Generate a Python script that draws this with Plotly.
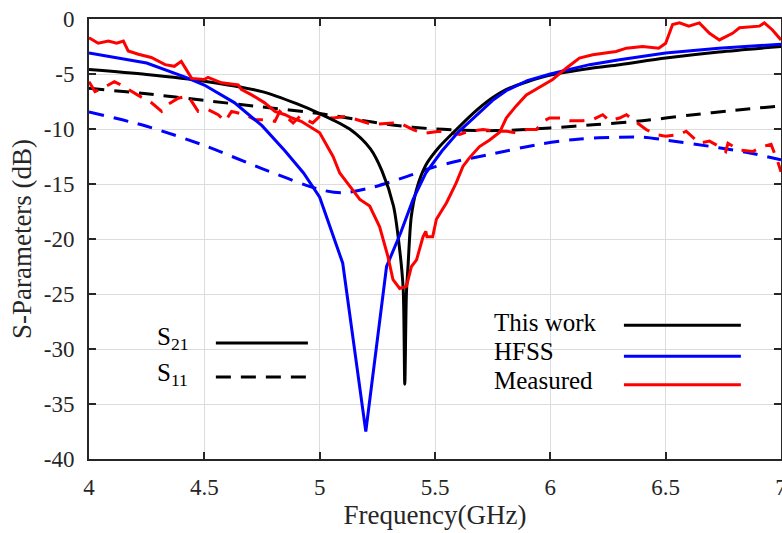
import plotly.graph_objects as go

# ---- data (frequency in GHz, S-parameters in dB) ----
work_s21_f = [4.0, 4.25, 4.5, 4.75, 4.9, 5.0, 5.13, 5.22, 5.27, 5.32, 5.347, 5.362, 5.369, 5.376, 5.383,
              5.397, 5.42, 5.46, 5.52, 5.6, 5.664, 5.74, 5.81, 5.9, 6.0, 6.17, 6.3, 6.5, 6.73, 7.0]
work_s21_db = [-4.6, -5.05, -5.65, -6.6, -7.7, -8.6, -10.0, -11.8, -13.8, -17.0, -21.0, -24.5, -33.2, -25.0, -22.5,
               -18.0, -15.5, -13.3, -11.6, -9.9, -8.6, -7.3, -6.4, -5.7, -5.1, -4.5, -4.15, -3.55, -3.0, -2.5]

work_s11_f = [4.0, 4.25, 4.5, 4.75, 5.0, 5.15, 5.3, 5.5, 5.7, 5.85, 6.0, 6.2, 6.4, 6.6, 6.8, 7.0]
work_s11_db = [-6.3, -6.8, -7.4, -8.0, -8.6, -9.1, -9.6, -10.0, -10.15, -10.1, -9.9, -9.6, -9.25, -8.75, -8.3, -7.9]

hfss_s21_f = [4.0, 4.25, 4.42, 4.5, 4.63, 4.75, 4.85, 4.93, 5.0, 5.1, 5.2, 5.29, 5.35, 5.405, 5.46, 5.53,
              5.6, 5.69, 5.75, 5.81, 5.9, 6.0, 6.17, 6.3, 6.5, 6.73, 7.0]
hfss_s21_db = [-3.1, -4.0, -5.3, -6.0, -7.6, -9.7, -12.0, -14.0, -16.2, -22.2, -37.5, -22.5, -19.5, -16.4, -14.0, -12.0,
               -10.3, -8.6, -7.4, -6.5, -5.6, -5.0, -4.15, -3.7, -3.1, -2.65, -2.3]

hfss_s11_f = [4.0, 4.25, 4.5, 4.75, 5.0, 5.1, 5.23, 5.38, 5.49, 5.58, 5.74, 5.95, 6.13, 6.3, 6.4, 6.5, 6.73, 6.87, 7.0]
hfss_s11_db = [-8.45, -9.75, -11.5, -13.6, -15.5, -15.8, -15.3, -14.3, -13.5, -13.0, -12.3, -11.4, -10.9, -10.75,
               -10.75, -11.0, -11.7, -12.2, -12.8]

meas_s21_f = [4.0, 4.04, 4.084, 4.12, 4.149, 4.17, 4.214, 4.27, 4.33, 4.37, 4.40, 4.445, 4.50, 4.516, 4.575,
              4.647, 4.66, 4.705, 4.76, 4.806, 4.85, 4.88, 4.92, 4.965, 5.0, 5.058, 5.087, 5.138, 5.174,
              5.217, 5.26, 5.296, 5.318, 5.347, 5.376, 5.398, 5.42, 5.448, 5.46, 5.465, 5.49, 5.506, 5.55,
              5.592, 5.621, 5.65, 5.693, 5.737, 5.78, 5.809, 5.852, 5.896, 5.953, 6.01, 6.07, 6.126, 6.184,
              6.285, 6.33, 6.4, 6.47, 6.5, 6.53, 6.56, 6.6, 6.646, 6.69, 6.733, 6.79, 6.82, 6.906, 6.928,
              6.963, 7.0]
meas_s21_db = [-1.7, -2.2, -2.0, -2.2, -2.0, -2.9, -3.2, -3.5, -4.15, -4.3, -3.85, -5.4, -5.5, -5.3, -5.8,
               -6.0, -6.4, -6.9, -7.6, -8.4, -8.7, -9.0, -9.3, -9.9, -10.35, -12.5, -14.0, -15.4, -16.4,
               -17.0, -18.9, -21.6, -23.7, -24.5, -24.3, -22.5, -21.9, -19.8, -19.3, -19.8, -19.8, -18.2, -16.7,
               -14.9, -13.4, -12.6, -11.6, -11.0, -10.3, -9.0, -7.9, -6.9, -6.2, -5.5, -4.45, -3.55, -3.25,
               -2.95, -2.65, -2.5, -2.65, -2.2, -0.5, -0.35, -0.65, -0.35, -1.3, -1.9, -1.3, -0.8, -0.65, -0.35,
               -1.0, -1.9]

meas_s11_f = [4.0, 4.026, 4.084, 4.11, 4.14, 4.185, 4.21, 4.27, 4.315, 4.34, 4.387, 4.43, 4.473, 4.517, 4.56,
              4.59, 4.618, 4.676, 4.72, 4.762, 4.806, 4.827, 4.885, 4.914, 4.97, 5.0, 5.058, 5.116, 5.188,
              5.23, 5.318, 5.347, 5.405, 5.448, 5.52, 5.607, 5.65, 5.708, 5.766, 5.81, 5.852, 5.896, 5.94,
              5.968, 5.997, 6.053, 6.083, 6.14, 6.184, 6.227, 6.256, 6.3, 6.33, 6.386, 6.415, 6.459, 6.5,
              6.56, 6.589, 6.646, 6.69, 6.733, 6.76, 6.77, 6.82, 6.877, 6.92, 6.957, 6.985, 7.0]
meas_s11_db = [-5.7, -6.6, -6.0, -5.7, -6.0, -6.6, -6.9, -7.6, -8.4, -7.8, -7.2, -7.0, -8.4, -8.25, -8.7,
               -9.3, -8.4, -8.7, -9.15, -9.15, -9.3, -8.4, -9.45, -8.85, -9.45, -8.85, -9.0, -8.85, -9.3,
               -9.6, -9.45, -9.45, -10.05, -10.4, -10.2, -10.5, -10.2, -10.05, -10.2, -10.2, -10.35, -10.05, -10.05,
               -9.3, -9.0, -9.0, -9.25, -9.25, -9.15, -8.7, -9.25, -9.0, -8.7, -9.6, -10.05, -10.5, -10.65,
               -10.5, -10.2, -11.3, -11.1, -11.6, -12.05, -11.3, -11.9, -12.05, -11.6, -11.4, -12.9, -13.9]

x_ticks = [4, 4.5, 5, 5.5, 6, 6.5, 7]
x_tick_labels = ["4", "4.5", "5", "5.5", "6", "6.5", "7"]
y_ticks = [-40, -35, -30, -25, -20, -15, -10, -5, 0]
y_tick_labels = ["-40", "-35", "-30", "-25", "-20", "-15", "-10", "-5", "0"]

BLACK = "#000000"
BLUE = "#0000ff"
RED = "#ff0000"
DASH = "15px,10px"
LW = 3

fig = go.Figure()

def add(xs, ys, color, dash, name, shape="linear"):
    fig.add_trace(go.Scatter(x=xs, y=ys, mode="lines", name=name,
                             line=dict(color=color, width=LW, dash=dash, shape=shape,
                                       smoothing=0.8 if shape == "spline" else None),
                             showlegend=False))

add(work_s11_f, work_s11_db, BLACK, DASH, "This work S11", "spline")
add(hfss_s11_f, hfss_s11_db, BLUE, DASH, "HFSS S11", "spline")
add(meas_s11_f, meas_s11_db, RED, DASH, "Measured S11")
add(work_s21_f, work_s21_db, BLACK, "solid", "This work S21", "spline")
add(hfss_s21_f, hfss_s21_db, BLUE, "solid", "HFSS S21")
add(meas_s21_f, meas_s21_db, RED, "solid", "Measured S21")

FONT = "Liberation Serif, Times New Roman, serif"
AX = "#262626"

# in-plot legend: labels on the left, line samples on the right
legend_items = [("This work", BLACK, -27.6, -27.85),
                ("HFSS", BLUE, -30.25, -30.67),
                ("Measured", RED, -32.9, -33.25)]
for label, col, ty, ly in legend_items:
    fig.add_annotation(x=5.747, y=ty, xref="x", yref="y", text=label, showarrow=False,
                       xanchor="left", yanchor="middle", font=dict(family=FONT, size=25, color="#000"))
    fig.add_shape(type="line", xref="x", yref="y", x0=6.319, x1=6.826, y0=ly, y1=ly,
                  line=dict(color=col, width=LW))

fig.add_annotation(x=4.286, y=-29.0, xref="x", yref="y", text="S<sub>21</sub>", showarrow=False,
                   xanchor="left", yanchor="middle", font=dict(family=FONT, size=25, color="#000"))
fig.add_annotation(x=4.286, y=-32.3, xref="x", yref="y", text="S<sub>11</sub>", showarrow=False,
                   xanchor="left", yanchor="middle", font=dict(family=FONT, size=25, color="#000"))
fig.add_shape(type="line", xref="x", yref="y", x0=4.55, x1=4.949, y0=-29.45, y1=-29.45,
              line=dict(color=BLACK, width=LW))
fig.add_shape(type="line", xref="x", yref="y", x0=4.55, x1=4.971, y0=-32.55, y1=-32.55,
              line=dict(color=BLACK, width=LW, dash=DASH))

fig.update_layout(
    width=782, height=533,
    margin=dict(l=89, r=1, t=19, b=74),
    paper_bgcolor="white", plot_bgcolor="white",
    font=dict(family=FONT, size=23, color=AX),
    showlegend=False,
)
fig.update_xaxes(range=[4, 7], tickvals=x_ticks, ticktext=x_tick_labels, automargin=False,
                 ticklabeloverflow="allow",
                 showgrid=True, gridcolor="#dcdcdc", gridwidth=1,
                 showline=True, linecolor=AX, linewidth=2, mirror="allticks",
                 ticks="inside", ticklen=7, tickwidth=1.5, tickcolor=AX,
                 tickfont=dict(family=FONT, size=23, color=AX), ticklabelstandoff=6,
                 title=dict(text="Frequency(GHz)", font=dict(family=FONT, size=27, color=AX), standoff=1),
                 zeroline=False)
fig.update_yaxes(range=[-40, 0], tickvals=y_ticks, ticktext=y_tick_labels, automargin=False,
                 ticklabeloverflow="allow",
                 showgrid=True, gridcolor="#dcdcdc", gridwidth=1,
                 showline=True, linecolor=AX, linewidth=2, mirror="allticks",
                 ticks="inside", ticklen=7, tickwidth=1.5, tickcolor=AX,
                 tickfont=dict(family=FONT, size=23, color=AX), ticklabelstandoff=8,
                 title=dict(text="S-Parameters (dB)", font=dict(family=FONT, size=27, color=AX), standoff=4),
                 zeroline=False)

fig.write_html("out.html", config={"displayModeBar": False},
               post_script="document.body.style.margin='0px';document.body.style.overflow='hidden';")
